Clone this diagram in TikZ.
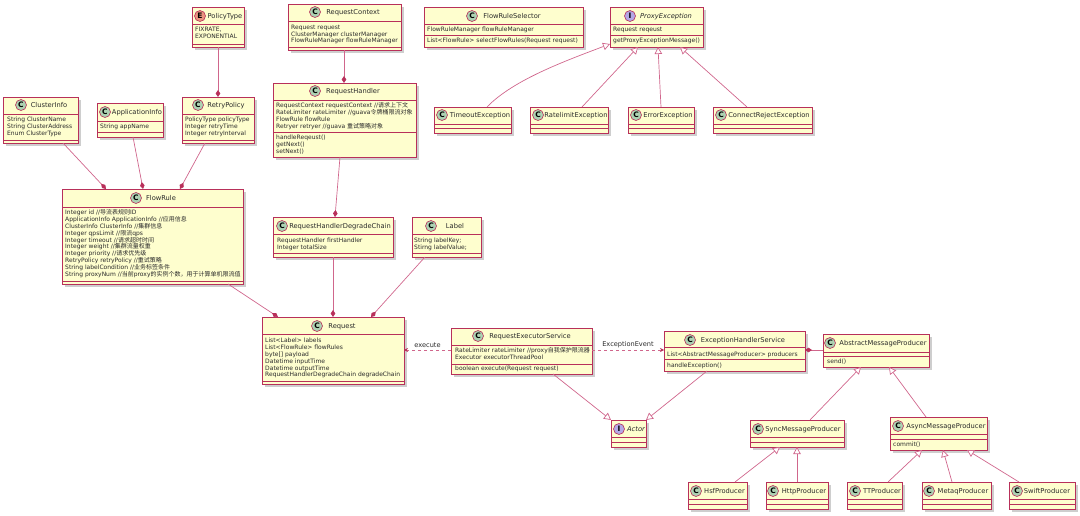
\documentclass[tikz,border=0pt]{standalone}
\usepackage{fontspec}
\setmainfont{DejaVu Sans}
\newfontfamily\cjk{Noto Sans CJK SC}
\usetikzlibrary{arrows.meta,shadows,calc}
\definecolor{umlline}{HTML}{B8305A}
\definecolor{umllink}{HTML}{D0668C}
\definecolor{umlfill}{HTML}{FEFECE}
\definecolor{umlC}{HTML}{ADD1B2}
\definecolor{umlE}{HTML}{EB937F}
\definecolor{umlI}{HTML}{B4A7E5}
\definecolor{umltext}{HTML}{2A2A2A}
\newcounter{umltxt}
\tikzset{
  umlbox/.style={draw=umlline,line width=0.8pt,fill=umlfill,anchor=north west,inner sep=0pt,outer sep=0pt,
    drop shadow={shadow xshift=2.6pt,shadow yshift=-2.6pt,fill=black!35,opacity=.55}},
  umlsep/.style={draw=umlline,line width=0.7pt},
  umlfield/.style={anchor=base west,inner sep=0pt,text=umltext,font=\fontsize{6.0}{6.5}\selectfont},
  umltitle/.style={anchor=base,inner sep=0pt,text=umltext,font=\fontsize{6.7}{7}\selectfont},
  umlmark/.style={circle,draw=umlline,line width=0.6pt,minimum size=11pt,inner sep=0pt,text=black,font=\fontsize{7.5}{7.5}\selectfont\bfseries},
  linkbase/.style={draw=umllink,line width=0.7pt},
  comp/.style={linkbase,-{Diamond[color=umlline,fill=umlline,length=7pt,width=4.6pt]}},
  ext/.style={linkbase,-{Triangle[color=umllink,fill=white,length=7pt,width=7.5pt]}},
  dep/.style={linkbase,dash pattern=on 3pt off 3pt,-{Stealth[color=umlline,length=4pt,width=4pt]}},
  linklabel/.style={anchor=center,inner sep=0pt,text=umltext,font=\fontsize{6.6}{7}\selectfont},
}
% name, x1, y1, x2, y2, first separator offset, second separator offset
\newcommand{\umlrect}[7]{%
  \node[umlbox,minimum width={(#4-#2)*1pt},minimum height={(#5-#3)*1pt}] (#1) at (#2,#3) {};
  \draw[umlsep] ([yshift=-#6pt]#1.north west) -- ([yshift=-#6pt]#1.north east);
  \draw[umlsep] ([yshift=-#7pt]#1.north west) -- ([yshift=-#7pt]#1.north east);
}
% name, mark colour, letter, mark x, y, title x, title text
\newcommand{\umlhead}[7]{%
  \node[umlmark,fill=#2] (#1-mark) at (#4,#5) {#3};
  \node[umltitle] (#1-title) at ({#6},{#5+2.4}) {#7};
}
\newcommand{\txt}[3]{\stepcounter{umltxt}\node[umlfield] (txt\theumltxt) at ({#1},{#2+2.1}) {#3};}
% style, from node, x offset, to node, x offset
\newcommand{\linkdown}[5]{\draw[#1] ([xshift=#3pt]#2.south west) -- ([xshift=#5pt]#4.north west);}
\newcommand{\linkup}[5]{\draw[#1] ([xshift=#3pt]#2.north west) -- ([xshift=#5pt]#4.south west);}
\begin{document}
\begin{tikzpicture}[x=1pt,y=-1pt]
\useasboundingbox (0,0) rectangle (1080,516);
% PolicyType
\umlrect{PolicyType}{192}{7}{244}{47}{17}{37}
\umlhead{PolicyType}{umlE}{E}{200}{16}{225}{PolicyType}
\txt{195}{29.5}{FIXRATE,}\txt{195}{36.7}{EXPONENTIAL}
% ClusterInfo
\umlrect{ClusterInfo}{3}{97}{78}{143}{17}{43}
\umlhead{ClusterInfo}{umlC}{C}{21}{105}{49}{ClusterInfo}
\txt{7}{119}{String ClusterName}\txt{7}{126}{String ClusterAddress}\txt{7}{133}{Enum ClusterType}
% ApplicationInfo
\umlrect{ApplicationInfo}{97}{103}{163}{137}{18}{29}
\umlhead{ApplicationInfo}{umlC}{C}{105}{112}{137}{ApplicationInfo}
\txt{100}{126}{String appName}
% RetryPolicy
\umlrect{RetryPolicy}{182}{97}{254}{143}{17}{43}
\umlhead{RetryPolicy}{umlC}{C}{198}{105}{226}{RetryPolicy}
\txt{185}{119}{PolicyType policyType}\txt{185}{126}{Integer retryTime}\txt{185}{133}{Integer retryInterval}
% FlowRule
\umlrect{FlowRule}{62}{189}{243}{284}{18}{92}
\umlhead{FlowRule}{umlC}{C}{136}{198}{161}{FlowRule}
\txt{65}{212.3}{Integer id //{\cjk 导流表规则}ID}
\txt{65}{219.2}{ApplicationInfo ApplicationInfo //{\cjk 应用信息}}
\txt{65}{226.1}{ClusterInfo ClusterInfo //{\cjk 集群信息}}
\txt{65}{233}{Integer qpsLimit //{\cjk 限流}qps}
\txt{65}{239.9}{Integer timeout //{\cjk 请求超时时间}}
\txt{65}{246.8}{Integer weight //{\cjk 集群流量权重}}
\txt{65}{253.7}{Integer priority //{\cjk 请求优先级}}
\txt{65}{260.6}{RetryPolicy retryPolicy //{\cjk 重试策略}}
\txt{65}{267.5}{String labelCondition //{\cjk 业务标签条件}}
\txt{65}{274.4}{String proxyNum //{\cjk 当前}proxy{\cjk 的实例个数，用于计算单机限流值}}
% RequestContext
\umlrect{RequestContext}{288}{4}{401}{50}{17}{43}
\umlhead{RequestContext}{umlC}{C}{315}{12}{353}{RequestContext}
\txt{291}{27}{Request request}\txt{291}{34}{ClusterManager clusterManager}\txt{291}{40.6}{FlowRuleManager flowRuleManager}
% RequestHandler
\umlrect{RequestHandler}{273}{83}{416}{157}{17}{49}
\umlhead{RequestHandler}{umlC}{C}{315}{91}{353}{RequestHandler}
\txt{276}{105.5}{RequestContext requestContext //{\cjk 请求上下文}}
\txt{276}{112.3}{RateLimiter rateLimiter //guava{\cjk 令牌桶限流对象}}
\txt{276}{119.2}{FlowRule flowRule}
\txt{276}{126}{Retryer retryer //guava {\cjk 重试策略对象}}
\txt{276}{137}{handleReqeust()}\txt{276}{144}{getNext()}\txt{276}{151}{setNext()}
% FlowRuleSelector
\umlrect{FlowRuleSelector}{424}{7}{583}{47}{17}{28}
\umlhead{FlowRuleSelector}{umlC}{C}{472}{16}{512}{FlowRuleSelector}
\txt{427}{29.5}{FlowRuleManager flowRuleManager}\txt{427}{40.5}{List<FlowRule> selectFlowRules(Request request)}
% ProxyException
\umlrect{ProxyException}{610}{7}{703}{47}{17}{28}
\umlhead{ProxyException}{umlI}{I}{630}{16}{666}{\itshape ProxyException}
\txt{613}{29.5}{Request reqeust}\txt{613}{40.5}{getProxyExceptionMessage()}
% exceptions
\umlrect{TimeoutException}{434}{107}{511}{133}{17}{21}
\umlhead{TimeoutException}{umlC}{C}{442}{115}{480}{TimeoutException}
\umlrect{RatelimitException}{530}{107}{608}{133}{17}{21}
\umlhead{RatelimitException}{umlC}{C}{538}{115}{576}{RatelimitException}
\umlrect{ErrorException}{628}{107}{694}{133}{17}{21}
\umlhead{ErrorException}{umlC}{C}{636}{115}{668}{ErrorException}
\umlrect{ConnectRejectException}{713}{107}{812}{133}{17}{21}
\umlhead{ConnectRejectException}{umlC}{C}{721}{115}{769}{ConnectRejectException}
% RequestHandlerDegradeChain
\umlrect{RequestHandlerDegradeChain}{273}{217}{393}{257}{17}{36}
\umlhead{RequestHandlerDegradeChain}{umlC}{C}{282}{226}{340}{RequestHandlerDegradeChain}
\txt{277}{240}{RequestHandler firstHandler}\txt{277}{247}{Integer totalSize}
% Label
\umlrect{Label}{412}{217}{481}{257}{17}{36}
\umlhead{Label}{umlC}{C}{431}{226}{455}{Label}
\txt{414}{240}{String labelKey;}\txt{414}{247}{Stirng labelValue;}
% Request
\umlrect{Request}{262}{317}{404}{384}{17}{64}
\umlhead{Request}{umlC}{C}{317}{326}{342}{Request}
\txt{265}{340}{List<Label> labels}\txt{265}{347}{List<FlowRule> flowRules}\txt{265}{354}{byte[] payload}
\txt{265}{361}{Datetime inputTime}\txt{265}{368}{Datetime outputTime}\txt{265}{374.5}{RequestHandlerDegradeChain degradeChain}
% RequestExecutorService
\umlrect{RequestExecutorService}{451}{328}{592}{374}{17}{36}
\umlhead{RequestExecutorService}{umlC}{C}{478}{336}{530}{RequestExecutorService}
\txt{455}{350}{RateLimiter rateLimiter //proxy{\cjk 自我保护限流器}}
\txt{455}{357.5}{Executor executorThreadPool}
\txt{455}{368.3}{boolean execute(Request request)}
% Actor
\umlrect{Actor}{611}{420}{646}{447}{17}{22}
\umlhead{Actor}{umlI}{I}{619}{429}{636}{\itshape Actor}
% ExceptionHandlerService
\umlrect{ExceptionHandlerService}{664}{331}{805}{371}{16}{28}
\umlhead{ExceptionHandlerService}{umlC}{C}{690}{340}{743}{ExceptionHandlerService}
\txt{667}{354}{List<AbstractMessageProducer> producers}
\txt{667}{365}{handleException()}
% AbstractMessageProducer
\umlrect{AbstractMessageProducer}{823}{334}{929}{367}{18}{22}
\umlhead{AbstractMessageProducer}{umlC}{C}{830}{343}{883}{AbstractMessageProducer}
\txt{827}{361}{send()}
% SyncMessageProducer
\umlrect{SyncMessageProducer}{750}{420}{844}{447}{17}{22}
\umlhead{SyncMessageProducer}{umlC}{C}{758}{429}{803}{SyncMessageProducer}
% AsyncMessageProducer
\umlrect{AsyncMessageProducer}{890}{417}{987}{450}{17}{22}
\umlhead{AsyncMessageProducer}{umlC}{C}{898}{426}{946}{AsyncMessageProducer}
\txt{893}{444}{commit()}
% producers
\umlrect{HsfProducer}{688}{482}{747}{509}{17}{22}
\umlhead{HsfProducer}{umlC}{C}{696}{491}{724.5}{HsfProducer}
\umlrect{HttpProducer}{766}{482}{828}{509}{17}{22}
\umlhead{HttpProducer}{umlC}{C}{773}{491}{804}{HttpProducer}
\umlrect{TTProducer}{847}{482}{902}{509}{17}{22}
\umlhead{TTProducer}{umlC}{C}{855}{491}{882}{TTProducer}
\umlrect{MetaqProducer}{922}{482}{991}{509}{17}{22}
\umlhead{MetaqProducer}{umlC}{C}{929}{491}{963}{MetaqProducer}
\umlrect{SwiftProducer}{1009}{482}{1075}{509}{17}{22}
\umlhead{SwiftProducer}{umlC}{C}{1017}{491}{1047}{SwiftProducer}
% connectors
\linkdown{comp}{PolicyType}{26}{RetryPolicy}{36}
\linkdown{comp}{ClusterInfo}{60}{FlowRule}{44}
\linkdown{comp}{ApplicationInfo}{36}{FlowRule}{81}
\linkdown{comp}{RetryPolicy}{23}{FlowRule}{118}
\linkdown{comp}{FlowRule}{166}{Request}{16}
\linkdown{comp}{RequestContext}{56}{RequestHandler}{71}
\linkdown{comp}{RequestHandler}{67}{RequestHandlerDegradeChain}{62}
\linkdown{comp}{RequestHandlerDegradeChain}{60}{Request}{71}
\linkdown{comp}{Label}{13}{Request}{109}
\draw[ext] ([xshift=53pt]TimeoutException.north west) .. controls +(26,-27) and +(-45,17) .. ([yshift=3pt]ProxyException.south west);
\linkup{ext}{RatelimitException}{52}{ProxyException}{28}
\linkup{ext}{ErrorException}{33}{ProxyException}{48}
\linkup{ext}{ConnectRejectException}{34}{ProxyException}{70}
\draw[dep] ([yshift=-22pt]RequestExecutorService.north west) -- node[linklabel,pos=.5,yshift=5pt] (lblexecute) {execute} ([yshift=-33pt]Request.north east);
\draw[dep] ([yshift=-22pt]RequestExecutorService.north east) -- node[linklabel,pos=.5,yshift=5pt] (lblevent) {ExceptionEvent} ([yshift=-19pt]ExceptionHandlerService.north west);
\linkdown{ext}{RequestExecutorService}{102}{Actor}{0}
\linkdown{ext}{ExceptionHandlerService}{43}{Actor}{35}
\draw[comp] ([yshift=-16pt]AbstractMessageProducer.north west) -- ([yshift=-19pt]ExceptionHandlerService.north east);
\linkup{ext}{SyncMessageProducer}{60}{AbstractMessageProducer}{38}
\linkup{ext}{AsyncMessageProducer}{36}{AbstractMessageProducer}{66}
\linkup{ext}{HsfProducer}{47}{SyncMessageProducer}{30}
\linkup{ext}{HttpProducer}{31}{SyncMessageProducer}{47}
\linkup{ext}{TTProducer}{41}{AsyncMessageProducer}{32}
\linkup{ext}{MetaqProducer}{30}{AsyncMessageProducer}{53}
\linkup{ext}{SwiftProducer}{10}{AsyncMessageProducer}{77}
\end{tikzpicture}
\end{document}
